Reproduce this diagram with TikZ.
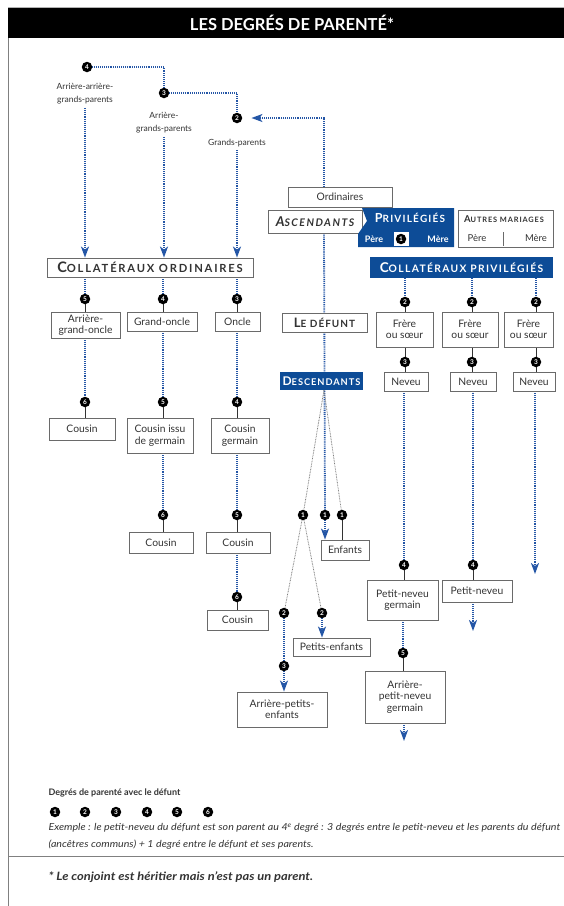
\documentclass[tikz,border=0pt]{standalone}
\usepackage{fontspec}
\setmainfont{Lato}
\usetikzlibrary{arrows.meta,backgrounds}
\definecolor{myblue}{HTML}{0D4C97}
\definecolor{lineblue}{HTML}{2456A6}
\definecolor{boxgray}{HTML}{6A6A6A}
\definecolor{txt}{HTML}{333333}
\newcommand{\myfsc}[5][10]{{\addfontfeatures{LetterSpace=#1}{\fontsize{#2}{#2}\selectfont #4}{\fontsize{#3}{#3}\selectfont #5}}}
\begin{document}
\begin{tikzpicture}[x=1pt,y=-1pt,
 box/.style={draw=boxgray, line width=0.9pt, fill=white, text=txt, align=center, inner sep=1pt, font=\fontsize{10.3}{11.5}\selectfont},
 bbox/.style={fill=myblue, text=white, inner sep=1pt, font=\bfseries},
 deg/.style={circle, fill=black, text=white, minimum size=10.5pt, inner sep=0pt, font=\fontsize{6.5}{6.5}\selectfont\bfseries},
 lab/.style={text=txt, align=center, font=\fontsize{8.5}{13}\selectfont},
 bline/.style={draw=lineblue, line width=1.8pt, dash pattern=on 1pt off 0.9pt},
 tline/.style={draw=gray, line width=0.8pt, dash pattern=on 0.8pt off 0.8pt},
 tick/.style={draw=txt, line width=0.9pt},
 arr/.style={-{Stealth[length=11pt,width=8pt,inset=3pt]}}
]
\useasboundingbox (0,0) rectangle (564,906);
% frame
\fill[black] (8,8) rectangle (564,38);
\draw[gray!60, line width=0.8pt] (8,7.5) -- (564,7.5);
\draw[gray, line width=1pt] (8,38) -- (8,906);
\draw[gray, line width=1pt] (8,856) -- (564,856);
\node[text=white, font=\fontsize{16.5}{16.5}\selectfont\bfseries] (title) at (292,23) {LES DEGRÉS DE PARENTÉ*};

% ascendants top
\node[deg] (d4) at (87,67) {4};
\node[deg] (d3) at (164,93) {3};
\node[deg] (d2) at (237,118) {2};
\node[lab] (l4) at (85,94) {Arrière-arrière-\\grands-parents};
\node[lab] (l3) at (164,123) {Arrière-\\grands-parents};
\node[lab] (l2) at (237,143) {Grands-parents};
\coordinate (spine) at (324,118);

% collateraux ordinaires
\node[box, minimum width=206pt, minimum height=19pt, font=\bfseries] (co) at (150,267.5) {\myfsc[16]{14.5}{11.2}{C}{OLLATÉRAUX ORDINAIRES}};
\node[deg] (co5) at (85,299) {5};
\node[deg] (co4) at (163,299) {4};
\node[deg] (co3) at (237,299) {3};
\node[box, minimum width=69pt, minimum height=26pt] (agonc) at (85.5,325) {Arrière-\\grand-oncle};
\node[box, minimum width=70pt, minimum height=19pt] (gonc) at (162,321.5) {Grand-oncle};
\node[box, minimum width=45pt, minimum height=19pt] (onc) at (237.5,321.5) {Oncle};
\node[deg] (c6a) at (85,402) {6};
\node[deg] (c5a) at (163,402) {5};
\node[deg] (c4a) at (237,402) {4};
\node[box, minimum width=66pt, minimum height=22pt] (cou1) at (82,429) {Cousin};
\node[box, minimum width=66pt, minimum height=35pt] (cig) at (160,435.5) {Cousin issu\\de germain};
\node[box, minimum width=58pt, minimum height=35pt] (cg) at (240,435.5) {Cousin\\germain};
\node[deg] (c6b) at (163,515) {6};
\node[deg] (c5b) at (237,515) {5};
\node[box, minimum width=64pt, minimum height=21pt] (cou2) at (161,542.5) {Cousin};
\node[box, minimum width=64pt, minimum height=21pt] (cou3) at (238,542.5) {Cousin};
\node[deg] (c6c) at (237,597) {6};
\node[box, minimum width=61pt, minimum height=20pt] (cou4) at (237.5,620) {Cousin};

% ascendants block
\node[box, minimum width=104pt, minimum height=20pt] (ord) at (340,197) {Ordinaires};
\node[box, minimum width=94pt, minimum height=23pt, font=\bfseries\itshape] (asc) at (315,221.5) {\myfsc[14]{13.5}{10.5}{A}{SCENDANTS}};
\fill[myblue] (362,208) -- (454,208) -- (454,247) -- (358,247) -- (358,234) -- (367,221) -- cycle;
\node[text=white, font=\bfseries] (priv) at (410,218) {\myfsc[12]{12.5}{10}{P}{RIVILÉGIÉS}};
\node[text=white, font=\fontsize{9}{9}\selectfont\bfseries] (pp) at (374,239) {Père};
\node[fill=white, minimum width=15pt, minimum height=14pt, inner sep=0pt] (sq) at (401,239) {};
\node[deg] (p1) at (401,239) {1};
\node[text=white, font=\fontsize{9}{9}\selectfont\bfseries] (pm) at (438,239) {Mère};
\node[box, minimum width=95pt, minimum height=37pt] (am) at (505.5,228.5) {};
\node[text=txt, font=\bfseries] (amt) at (504,219) {\myfsc[12]{9.5}{7.4}{A}{UTRES MARIAGES}};
\node[text=txt, font=\fontsize{9.5}{9.5}\selectfont] (amp) at (477,238.5) {Père};
\node[text=txt, font=\fontsize{9.5}{9.5}\selectfont] (amm) at (536,238.5) {Mère};
\coordinate (sepT) at (503,232);
\coordinate (sepB) at (503,246);
\draw[boxgray, line width=0.8pt] (sepT) -- (sepB);

\node[bbox, minimum width=183pt, minimum height=21pt] (cp) at (461.5,267.5) {\myfsc[13]{13.5}{10.3}{C}{OLLATÉRAUX PRIVILÉGIÉS}};
\node[box, minimum width=85pt, minimum height=19pt, font=\bfseries] (def) at (324.5,322.5) {\myfsc{13}{10}{L}{E DÉFUNT}};
\node[bbox, minimum width=83pt, minimum height=18pt] (desc) at (321.5,381) {\myfsc{12}{9.3}{D}{ESCENDANTS}};

% collateraux privilegies
\node[deg] (f2a) at (405,302) {2};
\node[deg] (f2b) at (472,302) {2};
\node[deg] (f2c) at (536,302) {2};
\node[box, minimum width=57pt, minimum height=35pt] (fra) at (404.5,329.5) {Frère\\ou sœur};
\node[box, minimum width=56pt, minimum height=35pt] (frb) at (470,329.5) {Frère\\ou sœur};
\node[box, minimum width=49pt, minimum height=35pt] (frc) at (528.5,329.5) {Frère\\ou sœur};
\node[deg] (n3a) at (405,362) {3};
\node[deg] (n3b) at (472,362) {3};
\node[deg] (n3c) at (536,362) {3};
\node[box, minimum width=44pt, minimum height=19pt] (nva) at (406,381.5) {Neveu};
\node[box, minimum width=46pt, minimum height=19pt] (nvb) at (473,381.5) {Neveu};
\node[box, minimum width=42pt, minimum height=19pt] (nvc) at (534,381.5) {Neveu};
\node[deg] (p4a) at (404,565) {4};
\node[deg] (p4b) at (473,565) {4};
\node[box, minimum width=71pt, minimum height=40pt] (png) at (402.5,600) {Petit-neveu\\germain};
\node[box, minimum width=70pt, minimum height=22pt] (pn) at (477,591) {Petit-neveu};
\node[deg] (p5) at (403,653) {5};
\node[box, minimum width=80pt, minimum height=52pt] (apng) at (405,697) {Arrière-\\petit-neveu\\germain};
\coordinate (endA) at (404,741);
\coordinate (endB) at (473,631);
\coordinate (endC) at (535,574);

% descendants
\node[deg] (e1a) at (303,515) {1};
\node[deg] (e1b) at (325,515) {1};
\node[deg] (e1c) at (342,515) {1};
\node[box, minimum width=48pt, minimum height=20pt] (enf) at (345,550) {Enfants};
\node[deg] (g2a) at (284,613) {2};
\node[deg] (g2b) at (322,613) {2};
\node[box, minimum width=77pt, minimum height=18pt] (pe) at (331.5,647) {Petits-enfants};
\node[deg] (g3) at (284,666) {3};
\node[box, minimum width=90pt, minimum height=35pt] (ape) at (282,709.5) {Arrière-petits-\\enfants};

% legend
\node[anchor=west, text=txt, font=\fontsize{9}{9}\selectfont\bfseries] (legt) at (45,793) {Degrés de parenté avec le défunt};
\foreach \i/\x in {1/55,2/85,3/116,4/147,5/177,6/208} {\node[deg] (lg\i) at (\x,812) {\i};}
\node[anchor=west, text=txt, font=\fontsize{9.7}{9.7}\selectfont\itshape] (ex1) at (45,828) {\scalebox{1.1}[1]{Exemple : le petit-neveu du défunt est son parent au 4\textsuperscript{e} degré : 3 degrés entre le petit-neveu et les parents du défunt}};
\node[anchor=west, text=txt, font=\fontsize{9.7}{9.7}\selectfont\itshape] (ex2) at (45,845) {\scalebox{1.1}[1]{(ancêtres communs) + 1 degré entre le défunt et ses parents.}};
\node[anchor=west, text=txt, font=\fontsize{11.5}{11.5}\selectfont\bfseries\itshape] (fn) at (45,877) {\scalebox{1.12}[1]{* Le conjoint est héritier mais n’est pas un parent.}};

\begin{scope}[on background layer]
% top ascendants
\draw[bline] (d4) -- (d3 |- d4) -- (d3);
\draw[bline] (d3) -- (d2 |- d3) -- (d2);
\draw[bline, arr] (ord.north -| spine) -- (spine) -- ([xshift=9pt]d2.east);
\draw[bline, arr] (l4.south) -- (l4.south |- co.north);
\draw[bline, arr] (l3.south) -- (l3.south |- co.north);
\draw[bline, arr] (l2.south) -- (l2.south |- co.north);
% collateraux ordinaires
\foreach \c in {co5,co4,co3} {\draw[bline] (co.south -| \c) -- (\c);}
\draw[tick] (co5) -- (co5 |- agonc.north);
\draw[tick] (co4) -- (co4 |- gonc.north);
\draw[tick] (co3) -- (co3 |- onc.north);
\draw[bline] (agonc.south -| c6a) -- (c6a);
\draw[bline] (gonc.south -| c5a) -- (c5a);
\draw[bline] (onc.south -| c4a) -- (c4a);
\draw[tick] (c6a) -- (c6a |- cou1.north);
\draw[tick] (c5a) -- (c5a |- cig.north);
\draw[tick] (c4a) -- (c4a |- cg.north);
\draw[bline] (cig.south -| c6b) -- (c6b);
\draw[bline] (cg.south -| c5b) -- (c5b);
\draw[tick] (c6b) -- (c6b |- cou2.north);
\draw[tick] (c5b) -- (c5b |- cou3.north);
\draw[bline] (cou3.south -| c6c) -- (c6c);
\draw[tick] (c6c) -- (c6c |- cou4.north);
% spine and descendants
\draw[bline] (asc.south -| spine) -- (e1b);
\draw[bline, arr] (e1b) -- (e1b |- enf.north);
\draw[tline] (desc.south -| spine) -- (e1a);
\draw[tline] (desc.south -| spine) -- (e1c);
\draw[tick] (e1c) -- (e1c |- enf.north);
\draw[tline] (e1a) -- (g2a);
\draw[tline] (e1a) -- (g2b);
\draw[bline, arr] (g2b) -- (g2b |- pe.north);
\draw[bline] (g2a) -- (g3);
\draw[bline, arr] (g3) -- (g3 |- ape.north);
% collateraux privilegies
\draw[bline] (cp.south -| f2a) -- (f2a);
\draw[bline] (cp.south -| f2b) -- (f2b);
\draw[bline] (cp.south -| f2c) -- (f2c);
\draw[tick] (f2a) -- (f2a |- fra.north);
\draw[tick] (f2b) -- (f2b |- frb.north);
\draw[tick] (f2c) -- (f2c |- frc.north);
\draw[tick] (fra.south -| n3a) -- (n3a) -- (n3a |- nva.north);
\draw[tick] (frb.south -| n3b) -- (n3b) -- (n3b |- nvb.north);
\draw[tick] (frc.south -| n3c) -- (n3c) -- (n3c |- nvc.north);
\draw[bline] (nva.south -| p4a) -- (p4a);
\draw[tick] (p4a) -- (p4a |- png.north);
\draw[bline] (png.south -| p5) -- (p5);
\draw[tick] (p5) -- (p5 |- apng.north);
\draw[bline, arr] (apng.south -| endA) -- (endA);
\draw[bline] (nvb.south -| p4b) -- (p4b);
\draw[tick] (p4b) -- (p4b |- pn.north);
\draw[bline, arr] (pn.south -| endB) -- (endB);
\draw[bline, arr] (nvc.south -| endC) -- (endC);
\end{scope}
\end{tikzpicture}
\end{document}
